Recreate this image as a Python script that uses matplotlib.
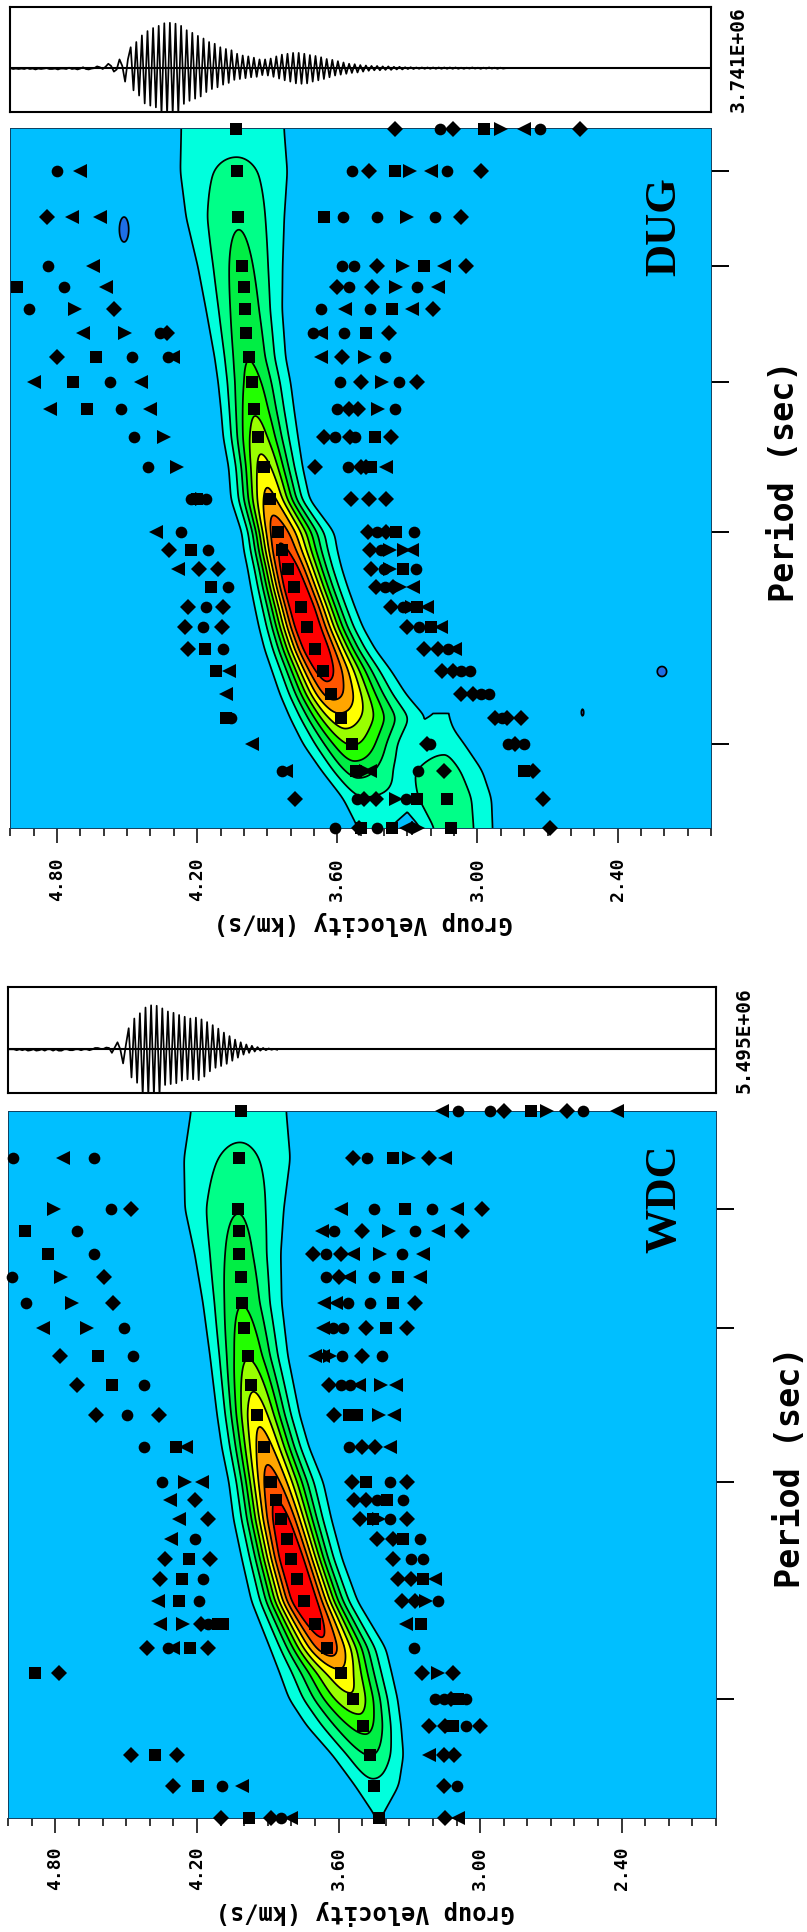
import numpy as np
import matplotlib
matplotlib.use('Agg')
import matplotlib.pyplot as plt

W, H = 807, 1932

# period axis has no labels in the original, so rows are in axis units counted from the top
dug_ticks = [43, 138, 254, 404, 616]
wdc_ticks = [98, 217.5, 371, 588.5]
vel_labels = [4.8, 4.2, 3.6, 3.0, 2.4]

dug_rows = [1, 43, 89, 138, 159, 181, 205, 229, 254, 281, 309, 339, 371, 404,
            422, 440.5, 459, 479, 499, 521, 542.5, 566, 590, 616, 642.5, 670.5, 700]
dug_syms = ['sdods><od', 'o<sods><od', 'd<<ssoo>od', 'o<sood>s<d', 'so<sdod>o<', 'o>dso<os<d',
            '<>odso<osd', 'dsoo<s<d>o', '<so<sod>od', '<so<sodd>o', 'o>sdodosd',
            'o>sdodds<', 'os>osddd', '<osdodso', 'dsosdo>><', '<ddsdo>so', 'sosddo><', 'dodsdo>s<',
            'dodsdos<', 'dsosddo<', 's<sddoo', '<sddoo', 'sosddod', '<sdoodo', 'o<s><odsd',
            'dodd>ossd', 'odsos<>sd']
dug_vels = [[4.035, 3.355, 3.16, 3.105, 2.97, 2.90, 2.80, 2.73, 2.56],
            [4.80, 4.70, 4.03, 3.535, 3.465, 3.355, 3.29, 3.20, 3.13, 2.985],
            [4.845, 4.735, 4.615, 4.025, 3.655, 3.575, 3.43, 3.30, 3.18, 3.07],
            [4.84, 4.645, 4.01, 3.58, 3.53, 3.43, 3.32, 3.23, 3.145, 3.05],
            [4.97, 4.77, 4.59, 4.00, 3.60, 3.55, 3.45, 3.35, 3.26, 3.17],
            [4.92, 4.725, 4.555, 3.995, 3.67, 3.565, 3.46, 3.365, 3.28, 3.19],
            [4.69, 4.51, 4.36, 4.33, 3.99, 3.705, 3.67, 3.57, 3.475, 3.38],
            [4.80, 4.635, 4.48, 4.325, 4.305, 3.98, 3.67, 3.58, 3.48, 3.395],
            [4.90, 4.73, 4.575, 4.44, 3.965, 3.59, 3.50, 3.41, 3.335, 3.26],
            [4.83, 4.67, 4.525, 4.40, 3.955, 3.60, 3.55, 3.51, 3.425, 3.355],
            [4.47, 4.34, 3.94, 3.655, 3.61, 3.545, 3.525, 3.44, 3.37],
            [4.41, 4.285, 3.915, 3.695, 3.555, 3.50, 3.475, 3.455, 3.39],
            [4.225, 4.2, 4.18, 4.16, 3.89, 3.54, 3.465, 3.39],
            [4.375, 4.27, 3.855, 3.47, 3.43, 3.39, 3.35, 3.27],
            [4.32, 4.225, 4.155, 3.835, 3.46, 3.415, 3.375, 3.315, 3.28],
            [4.28, 4.19, 4.11, 3.81, 3.455, 3.40, 3.375, 3.32, 3.265],
            [4.14, 4.07, 3.785, 3.435, 3.36, 3.395, 3.33, 3.275],
            [4.24, 4.16, 4.09, 3.755, 3.37, 3.32, 3.28, 3.26, 3.215],
            [4.25, 4.175, 4.095, 3.73, 3.30, 3.25, 3.2, 3.155],
            [4.24, 4.165, 4.09, 3.695, 3.23, 3.17, 3.125, 3.095],
            [4.12, 4.065, 3.66, 3.15, 3.105, 3.07, 3.03],
            [4.075, 3.625, 3.07, 3.02, 2.985, 2.95],
            [4.075, 4.055, 3.585, 2.925, 2.875, 2.895, 2.815],
            [3.965, 3.535, 3.215, 3.205, 2.87, 2.84, 2.80],
            [3.835, 3.82, 3.52, 3.475, 3.46, 3.255, 3.145, 2.80, 2.76],
            [3.78, 3.515, 3.485, 3.435, 3.35, 3.305, 3.26, 3.13, 2.72],
            [3.61, 3.505, 3.50, 3.43, 3.365, 3.305, 3.255, 3.115, 2.69]]

wdc_rows = [0.3, 47.6, 98.3, 120, 143, 166.6, 192, 217.6, 245, 274, 304, 336.6, 371.6, 389.6,
            408.6, 428, 448, 468.6, 490.6, 513.6, 537.6, 562, 588, 615, 644.6, 675, 707]
wdc_syms = ['s<oods>do<', 'o<osdos>d<', '>ods<oso<d', 'sos<od>o<d', 'sosdod<>o<', 'o>dsod<os<',
            'o>ds<<oosd', '<>os<oodsd', 'dsos<<>odo', 'dsosdoo<><', 'dodsdss><', 'os<sodd<',
            'o><sdsod', '<dsddoso', '<dsds>od', '<osddso', 'dsdsdoo', 'dsosdds<', '<sosdd>o',
            '<>dosss<s', 'do<sdso', 'sdsd>d', 'soodso', 'sddsod', 'dsds<dd', 'dso<sdo', 'dsdo<sd<']
wdc_vels = [[4.015, 3.16, 3.095, 2.96, 2.90, 2.785, 2.715, 2.63, 2.565, 2.42],
            [4.98, 4.77, 4.635, 4.02, 3.54, 3.48, 3.37, 3.30, 3.215, 3.15],
            [4.805, 4.565, 4.48, 4.025, 3.59, 3.45, 3.32, 3.205, 3.10, 2.99],
            [4.93, 4.71, 4.02, 3.67, 3.62, 3.50, 3.385, 3.275, 3.18, 3.075],
            [4.83, 4.635, 4.02, 3.71, 3.655, 3.59, 3.54, 3.425, 3.33, 3.24],
            [4.985, 4.775, 4.595, 4.015, 3.655, 3.60, 3.555, 3.45, 3.35, 3.255],
            [4.925, 4.73, 4.555, 4.01, 3.66, 3.61, 3.56, 3.465, 3.37, 3.275],
            [4.855, 4.665, 4.51, 4.00, 3.665, 3.625, 3.58, 3.485, 3.40, 3.31],
            [4.78, 4.62, 4.47, 3.985, 3.70, 3.665, 3.635, 3.585, 3.50, 3.415],
            [4.71, 4.56, 4.425, 3.97, 3.64, 3.59, 3.55, 3.515, 3.42, 3.355],
            [4.63, 4.495, 4.36, 3.945, 3.62, 3.555, 3.52, 3.43, 3.365],
            [4.425, 4.29, 4.245, 3.915, 3.555, 3.50, 3.445, 3.38],
            [4.35, 4.25, 4.18, 3.885, 3.545, 3.485, 3.38, 3.31],
            [4.315, 4.21, 3.865, 3.535, 3.485, 3.435, 3.395, 3.325],
            [4.275, 4.155, 3.845, 3.51, 3.455, 3.43, 3.38, 3.31],
            [4.31, 4.21, 3.82, 3.435, 3.37, 3.325, 3.255],
            [4.335, 4.235, 4.145, 3.80, 3.37, 3.295, 3.24],
            [4.355, 4.265, 4.175, 3.775, 3.35, 3.295, 3.24, 3.19],
            [4.365, 4.275, 4.19, 3.745, 3.33, 3.275, 3.23, 3.18],
            [4.355, 4.26, 4.185, 4.155, 4.11, 4.09, 3.70, 3.315, 3.25],
            [4.41, 4.325, 4.30, 4.23, 4.155, 3.65, 3.28],
            [4.885, 4.785, 3.59, 3.245, 3.18, 3.115],
            [3.54, 3.19, 3.155, 3.125, 3.095, 3.06],
            [3.495, 3.215, 3.15, 3.115, 3.06, 3.0],
            [4.48, 4.38, 4.285, 3.465, 3.215, 3.155, 3.11],
            [4.30, 4.195, 4.095, 4.01, 3.45, 3.155, 3.10],
            [4.10, 3.98, 3.885, 3.845, 3.80, 3.43, 3.15, 3.095]]

# energy ridge, one row per table entry: centre, height in contour steps, outer half widths
dug_f_rows = [0, 43, 89, 138, 181, 229, 254, 281, 309, 339, 371, 404, 422, 440, 459, 479, 499,
              521, 542, 566, 590, 616, 642, 670, 700]
dug_f_v = [4.035, 4.03, 4.025, 4.01, 3.995, 3.98, 3.965, 3.955, 3.94, 3.915, 3.89, 3.855, 3.835,
           3.81, 3.785, 3.755, 3.73, 3.695, 3.66, 3.625, 3.585, 3.535, 3.52, 3.485, 3.47]
dug_f_a = [1.4, 2.3, 2.9, 3.3, 3.6, 3.95, 4.35, 4.85, 5.5, 6.4, 7.35, 8.7, 9.2, 9.8, 10.2, 10.4,
           10.4, 10.2, 9.5, 8.4, 6.6, 5.05, 3.4, 1.9, 1.05]
dug_f_wl = [.233, .242, .222, .187, .167, .145, .145, .143, .148, .15, .165, .154, .165, .174, .185,
            .198, .205, .216, .22, .22, .216, .21, .148, .09, .04]
dug_f_wr = [.207, .216, .198, .176, .159, .159, .165, .17, .172, .167, .172, .242, .235, .229, .23,
            .231, .24, .258, .29, .32, .368, .253, .238, .25, .09]
dug2_rows = [585, 600, 616, 642, 670, 700]
dug2_v = [3.145, 3.145, 3.145, 3.14, 3.13, 3.115]
dug2_a = [1.02, 1.3, 1.8, 2.3, 2.7, 2.7]
dug2_wl = [.03, .16, .2, .3, .22, .125]
dug2_wr = [.02, .04, .09, .16, .19, .18]
dug_holes_v = [4.513, 2.21, 2.55]
dug_holes_r = [101, 543, 584]
dug_holes_dv = [.024, .024, .006]
dug_holes_dr = [15, 6, 4]

wdc_f_rows = [0, 47.6, 98, 143, 192, 245, 304, 336.6, 371.6, 408.6, 448, 490.6, 537.6, 562, 588,
              615, 644.6, 675, 707]
wdc_f_v = [4.015, 4.02, 4.025, 4.02, 4.01, 3.985, 3.945, 3.915, 3.885, 3.845, 3.80, 3.745, 3.65,
           3.59, 3.54, 3.495, 3.465, 3.45, 3.43]
wdc_f_a = [1.5, 2.25, 2.95, 3.4, 3.95, 4.9, 6.7, 7.5, 8.5, 9.6, 10.3, 10.3, 8.6, 6.7, 5.8, 4.4, 3.0,
           1.7, 1.02]
wdc_f_wl = [.21, .235, .226, .19, .165, .16, .17, .18, .18, .2, .21, .224, .24, .26, .27, .24, .16,
            .08, .01]
wdc_f_wr = [.193, .215, .193, .175, .169, .17, .18, .19, .22, .215, .215, .226, .25, .215, .19, .16,
            .14, .105, .01]

dug_wave = [0., -.02, -.01, -.02, -.01, -.02, 0., -.02, -.01, -.03,
            -.01, -.02, -.01, 0., -.02, -.02, -.01, -.03, -.01, -.01,
            -.02, .01, -.02, -.01, -.03, -.01, .02, -.02, -.03, -.01,
            0., .04, .02, -.02,
            .03, .10, .05, -.08, -.03, .2, .05, -.31, .2,
            .48, -.51, .6, -.63, .75, -.81, .85, -.86, .92, -.9, .97, -1.05, 1.03, -1.05, 1.04, -1.05,
            1.02, -1.05, .97, -.82, .87, -.75, .81, -.7, .74, -.65, .68, -.55, .6, -.48, .56, -.44,
            .48, -.38, .44, -.34, .41, -.27, .33, -.25, .29, -.23, .27, -.21, .24, -.2,
            .2, -.16, .2, -.17, .22, -.2, .27, -.24, .31, -.28, .33, -.31, .35, -.35, .35, -.36,
            .33, -.35, .3, -.31, .28, -.28, .25, -.25, .21, -.21, .19, -.17, .16, -.15, .13, -.13,
            .1, -.11, .09, -.1, .07, -.08, .06, -.06, .05, -.05, .05, -.05, .04, -.04, .04, -.04,
            .03, -.03, .03, -.03, .02, -.02, .02, -.02, .015, -.015, .015, -.015, .015, -.015,
            .015, -.015, .015, -.015, .015, -.015, .015, -.015, .015, -.015, .01, -.015, .01, -.01,
            .015, -.01, .01, -.015, .01, -.01, .015, -.01, .01, -.015, .01, -.01, 0., 0.]
wdc_wave = [0., 0., 0., -.02, 0., -.02, 0., -.03, -.02, 0.,
            -.03, -.02, 0., -.03, 0., 0., -.03, 0., -.03, -.03,
            0., 0., -.02, -.02, 0., 0., -.02, 0., 0., -.02,
            0., .03, .03, .01, .01,
            .04, .03, -.08, .04, .16, 0., -.32, .1,
            .48, -.64, .7, -.76, .82, -1.05, .95, -1.05, 1., -1.05, .99, -1.05, .93, -.81, .86, -.79,
            .83, -.77, .78, -.71, .74, -.68, .7, -.68, .72, -.7, .68, -.62, .62, -.5, .55, -.42,
            .47, -.38, .38, -.33, .3, -.26, .22, -.19, .16, -.12, .11, -.08, .08, -.05, .05, -.03,
            .03, -.02, .02, -.01, .01, -.01]

bounds = [-5, 0, 1, 2, 3, 4, 5, 6, 7, 8, 9, 12]
colors = ['#1E6EE6', '#00BFFF', '#00FFDD', '#00FF88', '#00EE44', '#22FF00', '#99FF00', '#FFFF00',
          '#FFA500', '#FF5500', '#FF0000']
syms = {'s': ('s', 8.2), 'o': ('o', 8.4), 'd': ('D', 8.1), '<': ('<', 9.4), '>': ('>', 9.4)}

vg = np.linspace(5, 2, 900)


def smooth(x):
    k = np.hanning(25)
    k = k / k.sum()
    xx = np.r_[np.full(12, x[0]), x, np.full(12, x[-1])]
    return np.convolve(xx, k, mode='same')[12:-12]


def ridge(rr, rows, v0, amp, wl, wr):
    c = smooth(np.interp(rr, rows, v0))
    a = smooth(np.maximum(np.interp(rr, rows, amp), 1.01))
    l = smooth(np.interp(rr, rows, wl))
    r = smooth(np.interp(rr, rows, wr))
    d = vg[None, :] - c[:, None]
    w = np.where(d > 0, l[:, None], r[:, None])
    return a[:, None] * np.exp(-np.log(a[:, None]) * (d / w) ** 2)


def dug_field(rg):
    z = ridge(rg, dug_f_rows, dug_f_v, dug_f_a, dug_f_wl, dug_f_wr)
    z2 = ridge(rg, dug2_rows, dug2_v, dug2_a, dug2_wl, dug2_wr)
    z2[rg < dug2_rows[0]] = 0
    z = np.maximum(np.maximum(z, z2), 0.5)
    for v, r, dv, dr in zip(dug_holes_v, dug_holes_r, dug_holes_dv, dug_holes_dr):
        z = z - np.exp(-((vg[None, :] - v) / dv) ** 2 - ((rg[:, None] - r) / dr) ** 2)
    return z


def wdc_field(rg):
    z = ridge(rg, wdc_f_rows, wdc_f_v, wdc_f_a, wdc_f_wl, wdc_f_wr)
    return np.maximum(z, 0.5)


def panel(box, wbox, ticks, rows, row_syms, row_vels, field, wave, exp_label, exp_x, name, name_y,
          period_x, period_y, label_x, label_y):
    ax = fig.add_axes([box[0] / W, 1 - box[3] / H, (box[2] - box[0]) / W, (box[3] - box[1]) / H])
    ax.set_xlim(5, 2)
    ax.set_ylim(box[3] - box[1], 0)
    rg = np.arange(0, box[3] - box[1] + 1, 1.0)
    z = field(rg)
    ax.contourf(vg, rg, z, levels=bounds, colors=colors)
    ax.contour(vg, rg, z, levels=bounds[1:-1], colors='black', linewidths=1.25)
    for r, s, v in zip(rows, row_syms, row_vels):
        for c, x in zip(s, v):
            m, ms = syms[c]
            ax.plot([x], [r], marker=m, ms=ms, color='black', mew=0, ls='none', clip_on=False, zorder=5)
    ax.set_xticks(vel_labels)
    ax.set_xticklabels(['%.2f' % x for x in vel_labels], rotation=90, family='DejaVu Sans Mono',
                       fontweight='bold', fontsize=13, va='top', ha='center')
    ax.set_xticks(np.arange(2, 5.05, 0.1), minor=True)
    ax.tick_params(axis='x', which='major', length=10.8, width=1.1, pad=10)
    ax.tick_params(axis='x', which='minor', length=5.8, width=1.1)
    ax.yaxis.tick_right()
    ax.set_yticks(ticks)
    ax.set_yticklabels([])
    ax.tick_params(axis='y', length=13, width=1.4)
    for sp in ax.spines.values():
        sp.set_linewidth(0.7)
        sp.set_color('#104060')

    ax2 = fig.add_axes([wbox[0] / W, 1 - wbox[3] / H, (wbox[2] - wbox[0]) / W, (wbox[3] - wbox[1]) / H])
    ax2.plot(np.arange(len(wave)), wave, color='black', lw=1.25)
    ax2.axhline(0, color='black', lw=1.5)
    ax2.set_xlim(0, (wbox[2] - wbox[0]) / 2.8)
    ax2.set_ylim(-1, 1.41)
    ax2.set_xticks([])
    ax2.set_yticks([])
    for sp in ax2.spines.values():
        sp.set_linewidth(1.5)

    fig.text(exp_x / W, 1 - (wbox[1] + wbox[3]) / 2 / H, exp_label, rotation=90, ha='center', va='center',
             family='DejaVu Sans Mono', fontweight='bold', fontsize=14)
    fig.text(664 / W, 1 - name_y / H, name, rotation=90, ha='center', va='center',
             family='Liberation Serif', fontweight='bold', fontsize=32)
    fig.text(period_x / W, 1 - period_y / H, 'Period (sec)', rotation=90, ha='center', va='center',
             family='DejaVu Sans Mono', fontweight='bold', fontsize=24)
    fig.text(label_x / W, 1 - label_y / H, 'Group Velocity (km/s)', rotation=180, ha='center', va='center',
             family='DejaVu Sans Mono', fontweight='bold', fontsize=17)


fig = plt.figure(figsize=(W / 100, H / 100), dpi=100)

panel((10.3, 128.5, 711, 828.3), (10.3, 6.7, 711, 111.7), dug_ticks, dug_rows, dug_syms, dug_vels, dug_field,
      dug_wave, '3.741E+06', 738, 'DUG', 226.5, 785, 481, 363.5, 923)
panel((8.3, 1110.7, 716, 1817.7), (8.3, 987.3, 716, 1093.3), wdc_ticks, wdc_rows, wdc_syms, wdc_vels, wdc_field,
      wdc_wave, '5.495E+06', 744, 'WDC', 1199, 790, 1467.5, 365, 1913)

fig.savefig('out.png', dpi=100)
